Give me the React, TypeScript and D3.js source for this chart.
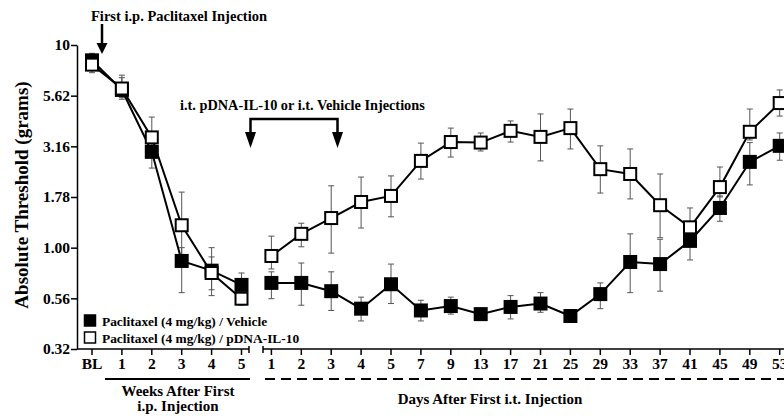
import { useEffect, useRef } from 'react';
import * as d3 from 'd3';

// x categories: baseline + weeks after i.p., then days after i.t.
const xKeys = ['BL', 'w1', 'w2', 'w3', 'w4', 'w5',
  'd1', 'd2', 'd3', 'd4', 'd5', 'd7', 'd9', 'd13', 'd17', 'd21', 'd25', 'd29', 'd33', 'd37', 'd41', 'd45', 'd49', 'd53'];
const xLabels = ['BL', '1', '2', '3', '4', '5',
  '1', '2', '3', '4', '5', '7', '9', '13', '17', '21', '25', '29', '33', '37', '41', '45', '49', '53'];
const weekCount = 6;

// log ticks at quarter decades
const yTickExps = [-0.5, -0.25, 0, 0.25, 0.5, 0.75, 1];
const yTickLabels = ['0.32', '0.56', '1.00', '1.78', '3.16', '5.62', '10'];

// Paclitaxel / Vehicle (filled squares)
const vehicleMean = [8.4, 6.0, 2.97, 0.86, 0.77, 0.655, 0.67, 0.67, 0.61, 0.50, 0.66, 0.49, 0.515, 0.47, 0.51, 0.53, 0.46, 0.59, 0.85, 0.83, 1.08, 1.57, 2.65, 3.18];
const vehicleHi = [9.1, 6.9, 3.4, 1.0, 0.9, 0.75, 0.76, 0.84, 0.76, 0.57, 0.83, 0.55, 0.57, 0.49, 0.58, 0.60, 0.47, 0.67, 1.17, 1.1, 1.2, 1.8, 3.3, 3.68];
const vehicleLo = [7.7, 5.4, 2.47, 0.60, 0.58, 0.57, 0.56, 0.52, 0.49, 0.435, 0.53, 0.435, 0.47, 0.45, 0.445, 0.48, 0.45, 0.50, 0.60, 0.61, 0.87, 1.35, 2.04, 2.70];

// Paclitaxel / pDNA-IL-10 (open squares)
const il10Mean = [8.0, 6.1, 3.5, 1.29, 0.75, 0.56, 0.91, 1.17, 1.40, 1.68, 1.80, 2.68, 3.32, 3.3, 3.77, 3.52, 3.89, 2.44, 2.31, 1.62, 1.26, 1.99, 3.73, 5.17];
const il10Hi = [8.6, 7.1, 4.41, 1.88, 1.0, 0.6, 1.14, 1.32, 2.02, 2.23, 2.26, 3.28, 3.89, 3.68, 4.22, 4.57, 4.83, 3.18, 3.07, 2.31, 1.57, 2.5, 4.83, 6.0];
const il10Lo = [7.3, 5.5, 3.0, 0.9, 0.62, 0.52, 0.785, 1.01, 0.94, 1.25, 1.42, 2.18, 2.80, 3.0, 3.32, 2.68, 3.07, 1.86, 1.74, 1.12, 1.10, 1.78, 3.4, 4.46];

const legendLabels = ['Paclitaxel (4 mg/kg) / Vehicle', 'Paclitaxel (4 mg/kg) / pDNA-IL-10'];

const App = () => {
  const svgRef = useRef(null);

  useEffect(() => {
    const width = 784;
    const height = 420;
    const font = '"Liberation Serif", "Times New Roman", serif';

    const svg = d3.select(svgRef.current);
    svg.selectAll('*').remove();
    svg.attr('width', width).attr('height', height).attr('viewBox', `0 0 ${width} ${height}`);

    const axisX = 77;
    const axisY = 349;

    const xScale = d3.scalePoint().domain(xKeys).range([92, 779.7]);
    const yScale = d3.scaleLog().domain([Math.pow(10, -0.5), 10]).range([axisY, 45]);

    // y axis
    const yAxis = d3.axisLeft(yScale)
      .tickValues(yTickExps.map((e) => Math.pow(10, e)))
      .tickFormat((d, i) => yTickLabels[i])
      .tickSize(6)
      .tickSizeOuter(0)
      .tickPadding(1);

    svg.append('g')
      .attr('transform', `translate(${axisX},0)`)
      .call(yAxis)
      .call((g) => g.selectAll('path, line').attr('stroke', '#000').attr('stroke-width', 1.5))
      .call((g) => g.selectAll('text')
        .style('font-family', font)
        .style('font-weight', 'bold')
        .style('font-size', '15.5px')
        .attr('fill', '#000'));

    // x axis, broken in two parts
    const breakL = 249;
    const breakR = 263;

    svg.append('line')
      .attr('x1', axisX).attr('x2', breakL)
      .attr('y1', axisY).attr('y2', axisY)
      .attr('stroke', '#000').attr('stroke-width', 1.5);
    svg.append('line')
      .attr('x1', breakR).attr('x2', width)
      .attr('y1', axisY).attr('y2', axisY)
      .attr('stroke', '#000').attr('stroke-width', 1.5);
    [breakL, breakR].forEach((bx) => {
      svg.append('line')
        .attr('x1', bx).attr('x2', bx)
        .attr('y1', axisY - 3).attr('y2', axisY + 4)
        .attr('stroke', '#000').attr('stroke-width', 1.5);
    });

    const xTicks = svg.append('g');
    xKeys.forEach((k, i) => {
      xTicks.append('line')
        .attr('x1', xScale(k)).attr('x2', xScale(k))
        .attr('y1', axisY).attr('y2', axisY + 6)
        .attr('stroke', '#000').attr('stroke-width', 1.5);
      xTicks.append('text')
        .attr('x', xScale(k))
        .attr('y', 369)
        .attr('text-anchor', 'middle')
        .style('font-family', font)
        .style('font-weight', 'bold')
        .style('font-size', '15.5px')
        .text(xLabels[i]);
    });

    // bottom group labels
    svg.append('line')
      .attr('x1', 105).attr('x2', 250)
      .attr('y1', 379).attr('y2', 379)
      .attr('stroke', '#000').attr('stroke-width', 2);
    svg.append('line')
      .attr('x1', 265).attr('x2', width)
      .attr('y1', 379).attr('y2', 379)
      .attr('stroke', '#000').attr('stroke-width', 2)
      .attr('stroke-dasharray', '10,6');

    const bottomText = (x, y, t) => svg.append('text')
      .attr('x', x).attr('y', y)
      .attr('text-anchor', 'middle')
      .style('font-family', font)
      .style('font-weight', 'bold')
      .style('font-size', '15px')
      .text(t);
    bottomText(178, 396, 'Weeks After First');
    bottomText(178, 411, 'i.p. Injection');
    bottomText(490, 404, 'Days After First i.t. Injection');

    // y label
    svg.append('text')
      .attr('transform', 'translate(28,195) rotate(-90)')
      .attr('text-anchor', 'middle')
      .style('font-family', font)
      .style('font-weight', 'bold')
      .style('font-size', '19px')
      .text('Absolute Threshold (grams)');

    // annotations
    svg.append('text')
      .attr('x', 91).attr('y', 21)
      .style('font-family', font)
      .style('font-weight', 'bold')
      .style('font-size', '14.5px')
      .text('First i.p. Paclitaxel Injection');

    const arrowHead = (x, yTop, yTip, w) => {
      svg.append('path')
        .attr('d', `M${x - w / 2},${yTop}L${x + w / 2},${yTop}L${x},${yTip}Z`)
        .attr('fill', '#000');
    };
    svg.append('line')
      .attr('x1', 102).attr('x2', 102).attr('y1', 24).attr('y2', 44)
      .attr('stroke', '#000').attr('stroke-width', 2.5);
    arrowHead(102, 43, 54, 11);

    svg.append('text')
      .attr('x', 180).attr('y', 110)
      .style('font-family', font)
      .style('font-weight', 'bold')
      .style('font-size', '14.3px')
      .text('i.t. pDNA-IL-10 or i.t. Vehicle Injections');

    svg.append('path')
      .attr('d', 'M250.5,134V119H337.5V134')
      .attr('fill', 'none')
      .attr('stroke', '#000').attr('stroke-width', 2.5);
    arrowHead(250.5, 132, 148, 11);
    arrowHead(337.5, 132, 148, 11);

    // data
    const series = [
      { mean: vehicleMean, hi: vehicleHi, lo: vehicleLo, fill: '#000' },
      { mean: il10Mean, hi: il10Hi, lo: il10Lo, fill: '#fff' },
    ];

    // error bars first
    series.forEach((s) => {
      const g = svg.append('g').attr('stroke', '#555').attr('stroke-width', 1);
      xKeys.forEach((k, i) => {
        const x = xScale(k);
        g.append('line').attr('x1', x).attr('x2', x)
          .attr('y1', yScale(s.hi[i])).attr('y2', yScale(s.lo[i]));
        g.append('line').attr('x1', x - 3).attr('x2', x + 3)
          .attr('y1', yScale(s.hi[i])).attr('y2', yScale(s.hi[i]));
        g.append('line').attr('x1', x - 3).attr('x2', x + 3)
          .attr('y1', yScale(s.lo[i])).attr('y2', yScale(s.lo[i]));
      });
    });

    series.forEach((s) => {
      const lineGen = d3.line()
        .x((i) => xScale(xKeys[i]))
        .y((i) => yScale(s.mean[i]));
      const leftIdx = d3.range(0, weekCount);
      const rightIdx = d3.range(weekCount, xKeys.length);
      [leftIdx, rightIdx].forEach((idx) => {
        svg.append('path')
          .attr('d', lineGen(idx))
          .attr('fill', 'none')
          .attr('stroke', '#000')
          .attr('stroke-width', 2);
      });
      svg.append('g')
        .selectAll('rect')
        .data(d3.range(xKeys.length))
        .enter()
        .append('rect')
        .attr('x', (i) => xScale(xKeys[i]) - 6)
        .attr('y', (i) => yScale(s.mean[i]) - 6)
        .attr('width', 12)
        .attr('height', 12)
        .attr('fill', s.fill)
        .attr('stroke', '#000')
        .attr('stroke-width', 2);
    });

    // legend
    legendLabels.forEach((t, i) => {
      const y = 320.5 + i * 17;
      svg.append('rect')
        .attr('x', 84.5).attr('y', y - 5.5)
        .attr('width', 11).attr('height', 11)
        .attr('fill', i === 0 ? '#000' : '#fff')
        .attr('stroke', '#000').attr('stroke-width', 1.5);
      svg.append('text')
        .attr('x', 102).attr('y', y + 5)
        .style('font-family', font)
        .style('font-weight', 'bold')
        .style('font-size', '13.4px')
        .text(t);
    });
  }, []);

  return (
    <div style={{ position: 'absolute', left: 0, top: 0 }}>
      <svg ref={svgRef} style={{ display: 'block', background: '#fff' }}></svg>
    </div>
  );
};

export default App;
